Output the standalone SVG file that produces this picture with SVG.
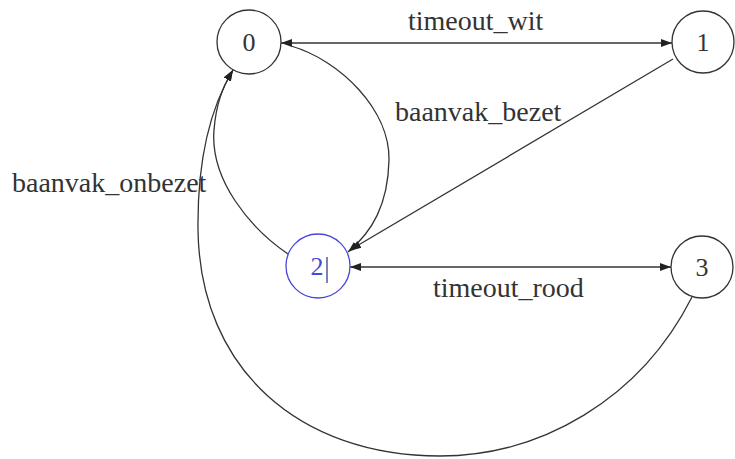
<svg xmlns="http://www.w3.org/2000/svg" width="735" height="459" viewBox="0 0 735 459">
  <style>
    .node { fill: none; stroke: #333; stroke-width: 1.3; }
    .node.sel { stroke: #4848d8; }
    .lbl { font-family: "Liberation Serif", "Times New Roman", serif; font-size: 28px; fill: #333; }
    .num { font-family: "Liberation Serif", "Times New Roman", serif; font-size: 26px; fill: #333; text-anchor: middle; }
    .num.sel { fill: #4848d8; }
    .edge { fill: none; stroke: #333; stroke-width: 1.3; }
  </style>
  <defs>
    <marker id="ah" markerUnits="userSpaceOnUse" markerWidth="12" markerHeight="10" refX="11" refY="4" orient="auto-start-reverse">
      <path d="M0,0 L11,4 L0,8 z" fill="#222"/>
    </marker>
  </defs>
  <rect width="735" height="459" fill="#ffffff"/>

  <g id="connectors">
    <line class="edge" x1="281" y1="43" x2="672" y2="43" marker-start="url(#ah)" marker-end="url(#ah)"/>
    <line class="edge" x1="350" y1="267" x2="671" y2="267" marker-start="url(#ah)" marker-end="url(#ah)"/>
    <path class="edge" d="M291,46 C340,60 390,110 389,160 C388,205 372,232 348,252" marker-end="url(#ah)"/>
    <path class="edge" d="M673,59 L350,250" marker-end="url(#ah)"/>
    <path class="edge" d="M288,254 C250,228 210,180 214,130 C216,105 222,88 233,70" marker-end="url(#ah)"/>
    <path class="edge" d="M692,297 C640,400 540,456 440,456 C300,456 200,370 198,230 C197,150 215,100 233,70" marker-end="url(#ah)"/>
    <text class="lbl" x="408" y="30">timeout_wit</text>
    <text class="lbl" x="395" y="121">baanvak_bezet</text>
    <text class="lbl" x="433" y="297">timeout_rood</text>
    <text class="lbl" x="12" y="192">baanvak_onbezet</text>
  </g>

  <g id="node0">
    <circle class="node" cx="249" cy="42" r="32"/>
    <text class="num" x="249" y="51">0</text>
  </g>
  <g id="node1">
    <circle class="node" cx="703" cy="42" r="31"/>
    <text class="num" x="703" y="51">1</text>
  </g>
  <g id="node2">
    <circle class="node sel" cx="318" cy="266" r="32"/>
    <text class="num sel" x="317" y="275">2</text>
    <line x1="327" y1="257" x2="327" y2="283" stroke="#2a2a80" stroke-width="1.2"/>
  </g>
  <g id="node3">
    <circle class="node" cx="702" cy="267" r="31"/>
    <text class="num" x="702" y="276">3</text>
  </g>
</svg>
